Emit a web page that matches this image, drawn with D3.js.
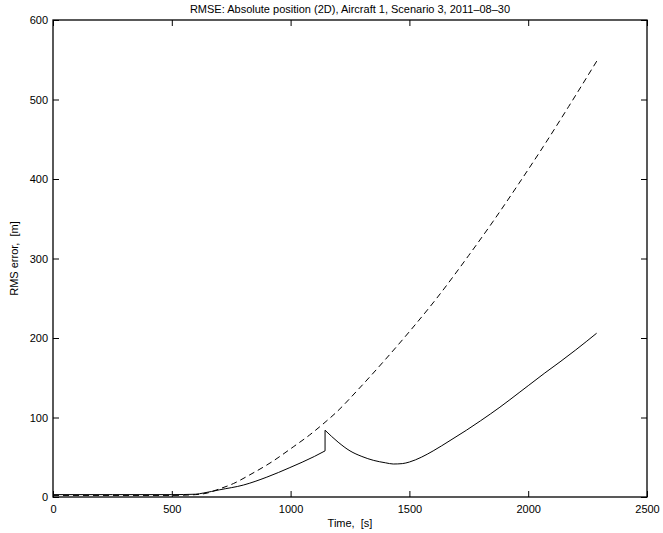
<!DOCTYPE html>
<html>
<head>
<meta charset="utf-8">
<script src="https://cdn.jsdelivr.net/npm/d3@7"></script>
<style>
  body { margin: 0; background: #fff; }
  text { font-family: "Liberation Sans", Arial, sans-serif; fill: #000; }
</style>
</head>
<body>
<div id="chart"></div>
<script>
// values
const xTicks = [0, 500, 1000, 1500, 2000, 2500];
const yTicks = [0, 100, 200, 300, 400, 500, 600];

// dashed series (time, rmse)
const dashedTime = [0, 250, 500, 600, 650, 689, 760, 829, 920, 1011, 1080, 1145, 1187, 1290, 1390, 1500, 1615, 1750, 1853, 1960, 2064, 2170, 2290];
const dashedRmse = [2, 2, 2, 3, 5, 9, 17, 28, 44, 63, 78, 94, 105, 137, 170, 208, 250, 304, 347, 394, 441, 491, 549];

// solid series before the jump at t = 1145
const solidTimeA = [0, 250, 500, 600, 633, 700, 801, 900, 997, 1100, 1145];
const solidRmseA = [3, 3, 3, 3.5, 5, 9, 15, 25, 37, 51, 58];

// solid series after the jump
const solidTimeB = [1145, 1200, 1250, 1300, 1350, 1400, 1432, 1470, 1500, 1550, 1600, 1671, 1740, 1800, 1881, 1965, 2000, 2070, 2134, 2200, 2288];
const solidRmseB = [84, 69, 58, 51, 46, 43, 41.5, 42, 44, 50, 58, 71, 84, 96, 113, 132, 140, 156, 170, 185, 206];

const margin = { top: 20, right: 16, bottom: 36, left: 53 },
    width = 663 - margin.left - margin.right,
    height = 533 - margin.top - margin.bottom;

const svg = d3.select("#chart")
    .append("svg")
    .attr("width", 663)
    .attr("height", 533);

const g = svg.append("g")
    .attr("transform", `translate(${margin.left},${margin.top})`);

const x = d3.scaleLinear().domain([0, 2500]).range([0, 594]);
const y = d3.scaleLinear().domain([0, 600]).range([477, 0]);

const line = d3.line()
    .x(d => x(d[0]))
    .y(d => y(d[1]))
    .curve(d3.curveMonotoneX);

const dashed = dashedTime.map((t, i) => [t, dashedRmse[i]]);
const solidA = solidTimeA.map((t, i) => [t, solidRmseA[i]]);
const solidB = solidTimeB.map((t, i) => [t, solidRmseB[i]]);

g.append("path")
    .datum(dashed)
    .attr("d", line)
    .style("fill", "none")
    .style("stroke", "#000")
    .style("stroke-width", 1)
    .style("stroke-dasharray", "6,4");

g.selectAll(".solid")
    .data([solidA, solidB])
    .join("path")
    .attr("class", "solid")
    .attr("d", line)
    .style("fill", "none")
    .style("stroke", "#000")
    .style("stroke-width", 1);

// the vertical jump joining both parts
g.append("line")
    .attr("x1", x(solidTimeA[solidTimeA.length - 1]))
    .attr("x2", x(solidTimeB[0]))
    .attr("y1", y(solidRmseA[solidRmseA.length - 1]))
    .attr("y2", y(solidRmseB[0]))
    .style("stroke", "#000")
    .style("stroke-width", 1);

// axes with inward ticks, MATLAB style box
const w = x.range()[1], h = y.range()[0];
const fmt = d3.format("d");

g.append("g")
    .attr("transform", `translate(0,${h})`)
    .call(d3.axisBottom(x).tickValues(xTicks).tickFormat(fmt).tickSizeInner(-6).tickSizeOuter(0).tickPadding(8))
    .call(a => a.select(".domain").remove());

g.append("g")
    .call(d3.axisTop(x).tickValues(xTicks).tickSizeInner(-6).tickSizeOuter(0).tickFormat(""))
    .call(a => a.select(".domain").remove());

g.append("g")
    .call(d3.axisLeft(y).tickValues(yTicks).tickFormat(fmt).tickSizeInner(-6).tickSizeOuter(0).tickPadding(5))
    .call(a => a.select(".domain").remove());

g.append("g")
    .attr("transform", `translate(${w},0)`)
    .call(d3.axisRight(y).tickValues(yTicks).tickSizeInner(-6).tickSizeOuter(0).tickFormat(""))
    .call(a => a.select(".domain").remove());

g.selectAll(".tick text")
    .style("font-size", "11px")
    .style("font-family", "'Liberation Sans', Arial, sans-serif");

g.selectAll(".tick line").style("stroke", "#000");

g.append("rect")
    .attr("width", w)
    .attr("height", h)
    .style("fill", "none")
    .style("stroke", "#000")
    .style("stroke-width", 1.3);

// title and labels
svg.append("text")
    .attr("x", margin.left + w / 2)
    .attr("y", 13)
    .style("text-anchor", "middle")
    .style("font-size", "11px")
    .text("RMSE: Absolute position (2D), Aircraft 1, Scenario 3, 2011\u201308\u201330");

svg.append("text")
    .attr("x", margin.left + w / 2)
    .attr("y", 527)
    .style("text-anchor", "middle")
    .style("font-size", "11px")
    .style("white-space", "pre")
    .text("Time,  [s]");

svg.append("text")
    .attr("transform", `translate(18,${margin.top + h / 2}) rotate(-90)`)
    .style("text-anchor", "middle")
    .style("font-size", "11px")
    .style("white-space", "pre")
    .text("RMS error,  [m]");
</script>
</body>
</html>
